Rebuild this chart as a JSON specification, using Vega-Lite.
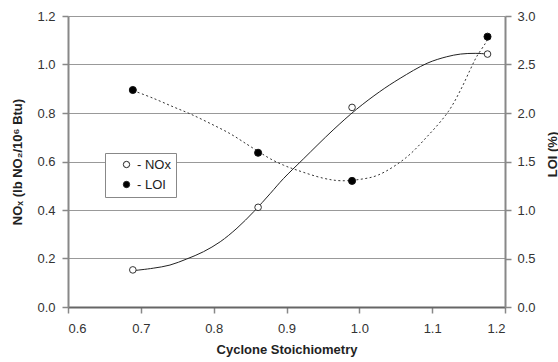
{
  "$schema": "https://vega.github.io/schema/vega-lite/v6.json",
  "width": 437,
  "height": 291,
  "autosize": {"type": "none"},
  "padding": {"left": 68, "top": 16, "right": 53, "bottom": 55},
  "background": "white",
  "config": {
    "font": "Liberation Sans",
    "view": {"stroke": null},
    "axis": {
      "labelFont": "Liberation Sans",
      "labelFontSize": 13,
      "labelColor": "#333333",
      "titleFont": "Liberation Sans",
      "titleFontSize": 13,
      "titleFontWeight": "bold",
      "titleColor": "#222222",
      "domainColor": "#888888",
      "domainWidth": 2,
      "tickColor": "#888888",
      "tickWidth": 1.5,
      "tickSize": 6,
      "gridColor": "#999999",
      "gridWidth": 1
    },
    "legend": {
      "orient": "none",
      "legendX": 37,
      "legendY": 137,
      "fillColor": "white",
      "strokeColor": "#888888",
      "padding": 5,
      "labelFont": "Liberation Sans",
      "labelFontSize": 13,
      "labelColor": "#222222",
      "symbolSize": 40,
      "symbolStrokeColor": "#222222",
      "symbolStrokeWidth": 1,
      "symbolOffset": 10,
      "rowPadding": 6
    }
  },
  "datasets": {
    "points": [
      {"x": 0.689, "NOx": 0.153, "LOI": 2.237},
      {"x": 0.861, "NOx": 0.411, "LOI": 1.59},
      {"x": 0.990, "NOx": 0.823, "LOI": 1.30},
      {"x": 1.176, "NOx": 1.043, "LOI": 2.787}
    ],
    "noxCurve": [
      {"x": 0.690, "v": 0.150},
      {"x": 0.717, "v": 0.160},
      {"x": 0.740, "v": 0.173},
      {"x": 0.763, "v": 0.198},
      {"x": 0.786, "v": 0.228},
      {"x": 0.809, "v": 0.269},
      {"x": 0.832, "v": 0.325},
      {"x": 0.855, "v": 0.393},
      {"x": 0.878, "v": 0.469},
      {"x": 0.896, "v": 0.530},
      {"x": 0.923, "v": 0.610},
      {"x": 0.964, "v": 0.730},
      {"x": 0.996, "v": 0.815},
      {"x": 1.028, "v": 0.888},
      {"x": 1.056, "v": 0.943},
      {"x": 1.093, "v": 1.005},
      {"x": 1.120, "v": 1.032},
      {"x": 1.139, "v": 1.043},
      {"x": 1.159, "v": 1.046},
      {"x": 1.177, "v": 1.043}
    ],
    "loiCurve": [
      {"x": 0.690, "v": 2.230},
      {"x": 0.717, "v": 2.152},
      {"x": 0.745, "v": 2.062},
      {"x": 0.768, "v": 1.990},
      {"x": 0.795, "v": 1.893},
      {"x": 0.823, "v": 1.785},
      {"x": 0.846, "v": 1.676},
      {"x": 0.861, "v": 1.605},
      {"x": 0.878, "v": 1.527},
      {"x": 0.896, "v": 1.462},
      {"x": 0.914, "v": 1.412},
      {"x": 0.951, "v": 1.327},
      {"x": 0.974, "v": 1.302},
      {"x": 1.001, "v": 1.316},
      {"x": 1.026, "v": 1.361},
      {"x": 1.063, "v": 1.533},
      {"x": 1.093, "v": 1.756},
      {"x": 1.122, "v": 2.013},
      {"x": 1.139, "v": 2.237},
      {"x": 1.152, "v": 2.443},
      {"x": 1.161, "v": 2.580},
      {"x": 1.173, "v": 2.718},
      {"x": 1.177, "v": 2.780}
    ]
  },
  "encoding": {
    "x": {
      "field": "x",
      "type": "quantitative",
      "scale": {"domain": [0.6, 1.2], "nice": false, "zero": false},
      "axis": {
        "title": "Cyclone Stoichiometry",
        "values": [0.6, 0.7, 0.8, 0.9, 1.0, 1.1, 1.2],
        "format": ".1f",
        "grid": false,
        "domainColor": "#666666",
        "labelPadding": 9,
        "titlePadding": 8
      }
    }
  },
  "layer": [
    {
      "encoding": {
        "y": {
          "type": "quantitative",
          "scale": {"domain": [0, 1.2], "nice": false},
          "axis": {
            "title": "NOₓ (lb NO₂/10⁶ Btu)",
            "values": [0, 0.2, 0.4, 0.6, 0.8, 1.0, 1.2],
            "format": ".1f",
            "grid": true,
            "labelPadding": 7,
            "titlePadding": 12
          }
        }
      },
      "layer": [
        {
          "data": {"name": "noxCurve"},
          "mark": {"type": "line", "interpolate": "catmull-rom", "color": "#222222", "strokeWidth": 1},
          "encoding": {"y": {"field": "v", "type": "quantitative"}}
        },
        {
          "data": {"name": "points"},
          "transform": [{"calculate": "'NOx'", "as": "series"}],
          "mark": {"type": "point", "shape": "circle", "size": 44, "stroke": "#333333", "strokeWidth": 1, "opacity": 1},
          "encoding": {
            "y": {"field": "NOx", "type": "quantitative"},
            "fill": {
              "field": "series",
              "type": "nominal",
              "scale": {"domain": ["NOx", "LOI"], "range": ["white", "black"]},
              "legend": {"title": null, "labelExpr": "'- ' + datum.label + '    '"}
            }
          }
        }
      ]
    },
    {
      "encoding": {
        "y": {
          "type": "quantitative",
          "scale": {"domain": [0, 3], "nice": false},
          "axis": {
            "orient": "right",
            "title": "LOI (%)",
            "values": [0, 0.5, 1.0, 1.5, 2.0, 2.5, 3.0],
            "format": ".1f",
            "grid": false,
            "labelPadding": 6,
            "titleAngle": 270,
            "titleAlign": "center",
            "titleBaseline": "middle",
            "titleX": 47,
            "titleY": 138
          }
        }
      },
      "layer": [
        {
          "data": {"name": "loiCurve"},
          "mark": {"type": "line", "interpolate": "catmull-rom", "color": "#333333", "strokeWidth": 1, "strokeDash": [2, 2.5]},
          "encoding": {"y": {"field": "v", "type": "quantitative"}}
        },
        {
          "data": {"name": "points"},
          "transform": [{"calculate": "'LOI'", "as": "series"}],
          "mark": {"type": "point", "shape": "circle", "size": 50, "stroke": "#111111", "strokeWidth": 1, "opacity": 1},
          "encoding": {
            "y": {"field": "LOI", "type": "quantitative"},
            "fill": {"field": "series", "type": "nominal"}
          }
        }
      ]
    }
  ],
  "resolve": {"scale": {"y": "independent"}}
}
